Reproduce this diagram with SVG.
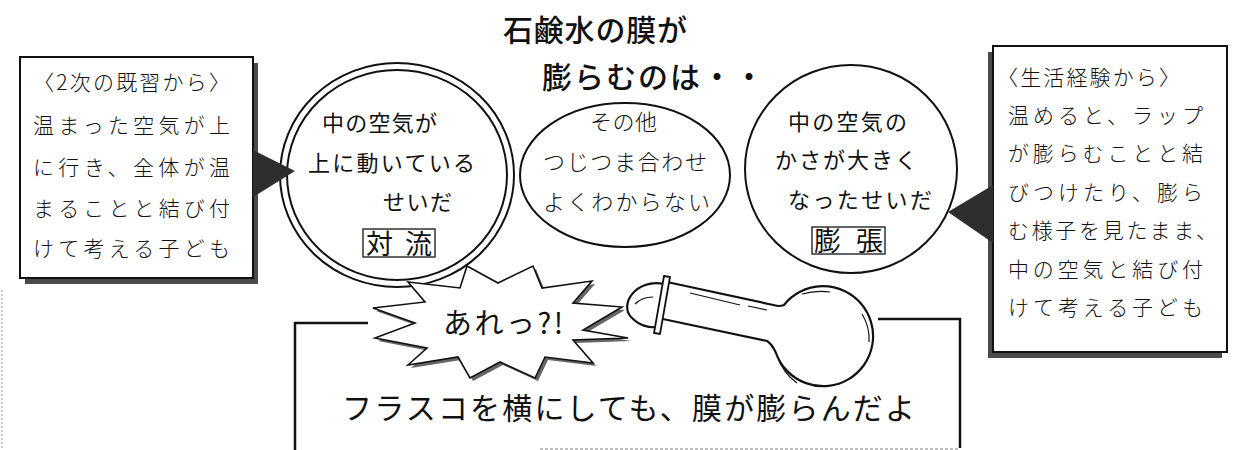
<svg xmlns="http://www.w3.org/2000/svg" width="1243" height="450" viewBox="0 0 1243 450">
  <style>
    text { font-family: "Noto Sans CJK JP", "Noto Sans", sans-serif; fill: #111; }
    .title { font-size: 30px; font-weight: 500; }
    .note { font-size: 21px; font-weight: 300; }
    .op { font-size: 22px; font-weight: 400; }
    .thin { font-size: 22px; font-weight: 300; }
    .tag { font-size: 27px; font-weight: 400; }
    .frame { fill: #fff; stroke: #111; stroke-width: 2; }
    .shadow { fill: #4a4a4a; }
    .ring { fill: none; stroke: #111; stroke-width: 2; }
    .pointer { fill: #2e2e2e; }
    .line { fill: none; stroke: #111; stroke-width: 2.5; }
    .hl { fill: none; stroke: #111; stroke-width: 1.2; }
  </style>

  <!-- page edge -->
  <line x1="2" y1="290" x2="2" y2="450" stroke="#999" stroke-width="1" stroke-dasharray="2 2"/>

  <!-- heading -->
  <g id="title">
    <text class="title" x="503" y="41" textLength="184" lengthAdjust="spacing">石鹸水の膜が</text>
    <text class="title" x="542" y="88" textLength="222" lengthAdjust="spacing">膨らむのは・・</text>
  </g>

  <!-- left explanation box -->
  <g id="box-prior">
    <rect class="shadow" x="25" y="63" width="233" height="221"/>
    <rect class="frame" x="20" y="57" width="233" height="221"/>
    <text class="note" x="33" y="90" textLength="197" lengthAdjust="spacing">〈2次の既習から〉</text>
    <text class="note" x="33" y="133" textLength="197" lengthAdjust="spacing">温まった空気が上</text>
    <text class="note" x="33" y="175" textLength="197" lengthAdjust="spacing">に行き、全体が温</text>
    <text class="note" x="33" y="216" textLength="197" lengthAdjust="spacing">まることと結び付</text>
    <text class="note" x="33" y="256" textLength="197" lengthAdjust="spacing">けて考える子ども</text>
  </g>

  <!-- right explanation box -->
  <g id="box-life">
    <rect class="shadow" x="988" y="52" width="234" height="306"/>
    <rect class="frame" x="993" y="46" width="234" height="306"/>
    <text class="note" x="997" y="85" textLength="183" lengthAdjust="spacing">〈生活経験から〉</text>
    <text class="note" x="1008" y="123" textLength="195" lengthAdjust="spacing">温めると、ラップ</text>
    <text class="note" x="1008" y="161" textLength="195" lengthAdjust="spacing">が膨らむことと結</text>
    <text class="note" x="1008" y="200" textLength="195" lengthAdjust="spacing">びつけたり、膨ら</text>
    <text class="note" x="1008" y="238" textLength="209" lengthAdjust="spacing">む様子を見たまま、</text>
    <text class="note" x="1008" y="277" textLength="195" lengthAdjust="spacing">中の空気と結び付</text>
    <text class="note" x="1008" y="315" textLength="195" lengthAdjust="spacing">けて考える子ども</text>
  </g>

  <!-- statement frame (open where the burst and flask sit) -->
  <g id="statement">
    <polyline class="line" points="295,450 295,323 368,323"/>
    <polyline class="line" points="878,319 960,319 960,448"/>
    <line x1="540" y1="449" x2="960" y2="449" stroke="#aaa" stroke-width="1.5" stroke-dasharray="3 2"/>
    <text x="342" y="419" style="font-size:30px" textLength="573" lengthAdjust="spacing">フラスコを横にしても、膜が膨らんだよ</text>
  </g>

  <!-- flask lying on its side -->
  <g id="flask">
    <path d="M667,282 L778,306 Q782,306 784,305 A50,50 0 1 1 776,353 Q772,344 767,341 L658,318 Z" fill="#fff" stroke="#111" stroke-width="2.2"/>
    <path d="M664,284 C636,278 618,305 632,318 C640,326 650,328 656,327" fill="#fff" stroke="#111" stroke-width="2.2"/>
    <polygon points="664,276 670,277 660,334 654,333" fill="#fff" stroke="#111" stroke-width="1.8"/>
    <path class="hl" d="M635,304 Q642,297 653,297"/>
    <line class="hl" x1="690" y1="293" x2="740" y2="305"/>
    <line class="hl" x1="748" y1="306" x2="767" y2="310"/>
    <path class="hl" d="M802,294 Q816,290 830,292"/>
    <path class="hl" d="M862,314 Q870,327 869,342"/>
    <path class="hl" d="M777,356 Q783,373 797,383"/>
  </g>

  <!-- opinion: convection (double ring) -->
  <g id="opinion-convection">
    <ellipse class="ring" cx="397" cy="175" rx="117" ry="112" fill="#fff"/>
    <ellipse class="ring" cx="397" cy="175" rx="110" ry="105"/>
    <text class="op" x="322" y="131" textLength="115" lengthAdjust="spacing">中の空気が</text>
    <text class="op" x="308" y="171" textLength="167" lengthAdjust="spacing">上に動いている</text>
    <text class="op" x="383" y="210" textLength="69" lengthAdjust="spacing">せいだ</text>
    <rect x="363" y="229" width="72" height="28" fill="none" stroke="#333" stroke-width="1.5"/>
    <text class="tag" x="366" y="254" textLength="66" lengthAdjust="spacing">対流</text>
  </g>

  <!-- opinion: other -->
  <g id="opinion-other">
    <ellipse class="ring" cx="625" cy="175" rx="105" ry="72" fill="#fff"/>
    <text class="thin" x="590" y="130" textLength="67" lengthAdjust="spacing">その他</text>
    <text class="thin" x="543" y="170" textLength="164" lengthAdjust="spacing">つじつま合わせ</text>
    <text class="thin" x="543" y="210" textLength="167" lengthAdjust="spacing">よくわからない</text>
  </g>

  <!-- opinion: expansion -->
  <g id="opinion-expansion">
    <ellipse class="ring" cx="851" cy="169" rx="106" ry="104" fill="#fff"/>
    <text class="op" x="788" y="130" textLength="119" lengthAdjust="spacing">中の空気の</text>
    <text class="op" x="775" y="168" textLength="142" lengthAdjust="spacing">かさが大きく</text>
    <text class="op" x="788" y="208" textLength="144" lengthAdjust="spacing">なったせいだ</text>
    <rect x="812" y="227" width="73" height="27" fill="none" stroke="#333" stroke-width="1.5"/>
    <text class="tag" x="814" y="251" textLength="69" lengthAdjust="spacing">膨張</text>
  </g>

  <!-- exclamation burst -->
  <g id="exclaim">
    <polygon transform="translate(3,3)" fill="#666" points="467,266 498,283 533,266 542,288 592,281 573,303 622,307 583,330 628,338 573,340 593,363 545,357 535,378 500,362 470,378 458,357 408,365 427,348 375,338 415,323 373,308 425,302 408,282 460,288"/>
    <polygon fill="#fff" stroke="#111" stroke-width="1.6" stroke-linejoin="miter" points="467,266 498,283 533,266 542,288 592,281 573,303 622,307 583,330 628,338 573,340 593,363 545,357 535,378 500,362 470,378 458,357 408,365 427,348 375,338 415,323 373,308 425,302 408,282 460,288"/>
    <text x="443" y="334" style="font-size:29px" textLength="120" lengthAdjust="spacing">あれっ?!</text>
  </g>

  <!-- pointers from the explanation boxes to the opinions -->
  <g id="connectors">
    <polygon class="pointer" points="253,150 295,171 253,197"/>
    <polygon class="pointer" points="993,185 948,212 993,243"/>
  </g>
</svg>
